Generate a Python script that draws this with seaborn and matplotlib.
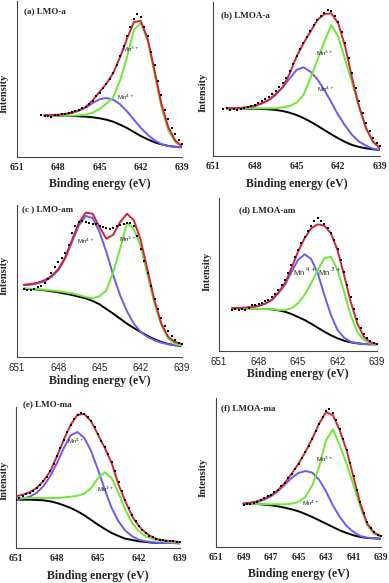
import matplotlib
matplotlib.use("Agg")
import matplotlib.pyplot as plt
import pandas as pd
import seaborn as sns

# Mn 2p3/2 XPS spectra, intensity in arbitrary units
# (a) LMO-a
e_a = [649, 648.5, 648, 647.5, 647, 646.5, 646, 645.5, 645, 644.5, 644,
       643.5, 643, 642.5, 642, 641.5, 641, 640.5, 640, 639.5, 639]
bg_a = [41.7, 41.7, 41.3, 41.3, 41.0, 40.7, 40.3, 39.7, 38.7, 37.3, 35.3,
        32.3, 29.0, 25.0, 21.0, 17.7, 14.7, 12.7, 11.0, 10.3, 9.7]
mn4_a = [41.7, 42.0, 42.3, 43.0, 44.3, 46.3, 49.3, 54.0, 57.7, 59.0, 57.3,
         52.7, 45.7, 37.3, 29.3, 22.3, 16.7, 13.0, 11.0, 10.0, 9.7]
mn3_a = [41.7, 41.7, 41.3, 41.3, 41.3, 41.7, 42.3, 44.3, 48.0, 53.3, 60.0,
         76.7, 100.0, 127.0, 134.0, 116.7, 83.3, 50.0, 26.7, 15.0, 10.7]
fit_a = [41.7, 41.8, 42.0, 43.0, 44.0, 46.7, 50.0, 56.7, 65.0, 73.3, 84.0,
         100.0, 118.3, 135.0, 136.0, 118.3, 86.7, 53.3, 30.0, 16.7, 10.7]
dots_a = [(649.25, 42.5), (649, 41.5), (648.75, 41.0), (648.5, 40.0), (648.25, 42.5),
          (648, 42.0), (647.75, 43.5), (647.5, 43.0), (647.25, 44.5), (647, 45.0),
          (646.75, 46.5), (646.5, 47.5), (646.25, 49.0), (646, 50.5), (645.75, 53.0),
          (645.5, 56.5), (645.25, 61.0), (645, 64.5), (644.75, 69.0), (644.5, 73.0),
          (644.25, 78.5), (644, 84.0), (643.75, 92.0), (643.5, 101.0), (643.25, 111.0),
          (643, 121.0), (642.75, 130.0), (642.5, 138.0), (642.25, 143.0), (642, 140.0),
          (641.75, 130.0), (641.5, 121.0), (641.25, 105.0), (641, 92.0), (640.75, 76.0),
          (640.5, 62.0), (640.25, 47.0), (640, 38.0), (639.75, 29.0), (639.5, 23.0),
          (639.25, 17.0), (639, 13.0)]

# (b) LMOA-a
e_b = [650, 649.5, 649, 648.5, 648, 647.5, 647, 646.5, 646, 645.5, 645, 644.5,
       644, 643.5, 643, 642.5, 642, 641.5, 641, 640.5, 640, 639.5, 639]
bg_b = [47.7, 47.7, 47.7, 47.3, 47.3, 47.0, 46.7, 46.0, 45.0, 43.3, 41.0, 38.0,
        34.3, 30.3, 26.0, 21.7, 17.7, 14.0, 11.0, 9.0, 7.7, 6.7, 6.0]
mn4_b = [47.7, 47.7, 47.7, 48.7, 50.0, 52.3, 56.0, 61.0, 68.7, 77.3, 86.0, 88.7,
         84.3, 76.7, 66.0, 53.7, 41.0, 30.3, 21.0, 14.3, 10.3, 7.3, 6.0]
mn3_b = [47.7, 47.7, 47.7, 47.7, 47.7, 47.7, 47.7, 47.7, 48.7, 50.0, 53.3, 61.0,
         77.7, 96.0, 114.3, 131.0, 119.3, 96.0, 72.7, 49.3, 27.7, 14.3, 7.7]
fit_b = [47.7, 47.7, 48.0, 49.0, 50.0, 53.0, 56.0, 62.0, 68.7, 82.0, 99.3, 112.7,
         124.3, 136.0, 142.0, 142.7, 132.7, 109.3, 77.7, 49.3, 27.7, 14.3, 7.7]
dots_b = [(650.25, 47.0), (650, 48.0), (649.75, 46.5), (649.5, 47.0), (649.25, 46.0),
          (649, 47.5), (648.75, 48.5), (648.5, 49.5), (648.25, 50.5), (648, 51.5),
          (647.75, 53.5), (647.5, 55.0), (647.25, 57.5), (647, 59.5), (646.75, 62.5),
          (646.5, 65.5), (646.25, 69.0), (646, 73.0), (645.75, 78.5), (645.5, 85.0),
          (645.25, 92.0), (645, 100.0), (644.75, 107.0), (644.5, 113.0), (644.25, 119.0),
          (644, 125.0), (643.75, 131.0), (643.5, 136.0), (643.25, 140.0), (643, 143.0),
          (642.75, 146.0), (642.5, 145.0), (642.25, 140.0), (642, 134.0), (641.75, 124.0),
          (641.5, 113.0), (641.25, 98.0), (641, 83.0), (640.75, 68.0), (640.5, 55.0),
          (640.25, 43.0), (640, 33.0), (639.75, 25.0), (639.5, 18.0), (639.25, 13.0),
          (639, 10.0)]

# (c) LMO-am
e_c = [650.5, 650, 649.5, 649, 648.5, 648, 647.5, 647, 646.5, 646, 645.5, 645,
       644.5, 644, 643.5, 643, 642.5, 642, 641.5, 641, 640.5, 640, 639.5, 639]
bg_c = [68.3, 68.0, 67.5, 66.7, 65.7, 64.7, 63.3, 62.0, 60.3, 58.7, 56.0, 52.7,
        48.0, 43.3, 38.3, 33.3, 29.0, 25.0, 21.0, 17.7, 15.0, 13.0, 11.7, 11.0]
mn4_c = [71.7, 72.3, 73.7, 75.7, 80.0, 86.7, 98.3, 115.0, 131.7, 141.0, 139.0, 125.0,
         105.0, 81.7, 61.7, 45.7, 33.3, 25.0, 20.0, 16.7, 14.3, 12.7, 11.7, 11.0]
mn3_c = [68.5, 68.3, 67.8, 67.2, 66.5, 65.7, 64.7, 63.7, 62.0, 60.0, 58.7, 60.7,
         66.7, 85.0, 108.3, 134.3, 128.3, 110.0, 81.7, 53.3, 31.7, 18.3, 13.0, 11.7]
fit_c = [72.3, 73.0, 74.3, 76.7, 81.0, 87.7, 99.7, 117.0, 134.3, 144.3, 143.3, 130.0,
         118.3, 122.3, 135.0, 143.3, 136.7, 116.7, 86.7, 56.7, 33.3, 20.0, 15.0, 13.0]
dots_c = [(650.5, 68.5), (650.25, 67.0), (650, 67.5), (649.75, 68.0), (649.5, 70.0),
          (649.25, 71.0), (649, 74.0), (648.75, 78.0), (648.5, 84.0), (648.25, 90.0),
          (648, 95.0), (647.75, 99.0), (647.5, 104.0), (647.25, 112.0), (647, 124.0),
          (646.75, 131.0), (646.5, 135.0), (646.25, 136.0), (646, 135.0), (645.75, 134.0),
          (645.5, 133.5), (645.25, 133.0), (645, 131.5), (644.75, 130.0), (644.5, 129.0),
          (644.25, 128.0), (644, 129.0), (643.75, 131.0), (643.5, 132.0), (643.25, 133.0),
          (643, 134.0), (642.75, 134.0), (642.5, 131.0), (642.25, 121.0), (642, 108.0),
          (641.75, 96.0), (641.5, 84.0), (641.25, 71.0), (641, 58.0), (640.75, 48.0),
          (640.5, 39.0), (640.25, 31.0), (640, 26.0), (639.75, 21.0), (639.5, 17.0),
          (639.25, 14.5), (639, 13.0)]

# (d) LMOA-am
e_d = [650, 649.5, 649, 648.5, 648, 647.5, 647, 646.5, 646, 645.5, 645, 644.5,
       644, 643.5, 643, 642.5, 642, 641.5, 641, 640.5, 640, 639.5, 639]
bg_d = [42.7, 42.7, 42.3, 42.3, 42.0, 42.0, 41.7, 40.7, 39.3, 37.0, 34.0, 31.0,
        27.3, 23.3, 19.3, 15.7, 12.7, 10.3, 8.7, 7.7, 7.0, 6.7, 6.7]
mn4_d = [42.7, 43.0, 43.3, 44.0, 45.0, 47.3, 51.0, 57.7, 66.0, 78.7, 91.0, 96.7,
         92.0, 77.7, 56.0, 36.0, 21.0, 13.3, 9.3, 7.7, 7.0, 6.7, 6.7]
mn3_d = [42.0, 42.0, 42.0, 42.0, 42.0, 42.0, 42.0, 41.0, 41.0, 42.7, 47.7, 56.0,
         67.7, 81.0, 92.7, 94.3, 81.0, 59.3, 36.0, 19.3, 11.0, 7.7, 6.7]
fit_d = [42.7, 43.0, 43.3, 44.0, 45.0, 47.3, 51.0, 58.3, 67.7, 82.7, 99.3, 112.7,
         122.7, 126.7, 125.3, 117.7, 101.0, 76.0, 49.3, 27.7, 14.3, 8.7, 7.0]
dots_d = [(650, 41.5), (649.75, 42.5), (649.5, 41.0), (649.25, 42.0), (649, 41.5),
          (648.75, 43.0), (648.5, 46.0), (648.25, 46.5), (648, 47.0), (647.75, 48.0),
          (647.5, 50.0), (647.25, 51.5), (647, 54.0), (646.75, 57.0), (646.5, 61.0),
          (646.25, 66.0), (646, 71.0), (645.75, 78.0), (645.5, 86.0), (645.25, 94.0),
          (645, 101.0), (644.75, 108.0), (644.5, 114.0), (644.25, 120.0), (644, 125.0),
          (643.75, 130.0), (643.5, 133.0), (643.25, 130.0), (643, 127.0), (642.75, 123.0),
          (642.5, 118.0), (642.25, 111.0), (642, 102.0), (641.75, 91.0), (641.5, 79.0),
          (641.25, 66.0), (641, 54.0), (640.75, 42.0), (640.5, 32.0), (640.25, 23.0),
          (640, 17.0), (639.75, 13.0), (639.5, 10.0), (639.25, 8.0), (639, 7.0)]

# (e) LMO-ma
e_e = [651, 650.5, 650, 649.5, 649, 648.5, 648, 647.5, 647, 646.5, 646, 645.5, 645,
       644.5, 644, 643.5, 643, 642.5, 642, 641.5, 641, 640.5, 640, 639.5, 639]
bg_e = [48.3, 48.3, 48.3, 48.0, 47.7, 46.7, 45.0, 42.7, 40.0, 36.7, 32.7, 28.0, 23.3,
        19.0, 15.0, 12.0, 9.3, 8.0, 6.7, 6.0, 5.3, 5.0, 5.0, 5.0, 4.7]
mn4_e = [48.3, 49.3, 51.3, 55.0, 61.7, 71.7, 85.0, 100.0, 112.7, 116.0, 110.0, 96.7, 78.3,
         58.3, 40.0, 26.7, 17.3, 11.7, 8.3, 6.7, 5.7, 5.0, 5.0, 5.0, 4.7]
mn3_e = [50.0, 50.0, 50.0, 50.0, 50.0, 50.0, 50.0, 50.7, 51.3, 52.3, 54.3, 60.0, 70.0,
         75.7, 70.0, 55.0, 38.3, 25.0, 16.7, 11.7, 9.0, 7.3, 6.3, 5.7, 5.3]
fit_e = [51.7, 53.3, 55.7, 60.0, 66.7, 76.7, 91.7, 108.3, 123.3, 133.3, 134.0, 126.7, 113.3,
         100.0, 85.0, 63.3, 46.7, 31.7, 21.7, 15.0, 10.7, 8.3, 7.3, 6.7, 6.0]
dots_e = [(651, 48.0), (650.75, 50.5), (650.5, 52.5), (650.25, 54.0), (650, 55.5),
          (649.75, 57.5), (649.5, 60.0), (649.25, 63.5), (649, 67.0), (648.75, 71.0),
          (648.5, 77.0), (648.25, 84.0), (648, 92.0), (647.75, 100.0), (647.5, 108.0),
          (647.25, 116.0), (647, 123.0), (646.75, 129.0), (646.5, 133.0), (646.25, 135.0),
          (646, 134.0), (645.75, 131.0), (645.5, 127.0), (645.25, 121.0), (645, 114.0),
          (644.75, 107.0), (644.5, 101.0), (644.25, 94.0), (644, 86.0), (643.75, 77.0),
          (643.5, 66.0), (643.25, 57.0), (643, 48.0), (642.75, 40.0), (642.5, 33.0),
          (642.25, 27.0), (642, 22.0), (641.75, 18.0), (641.5, 15.0), (641.25, 12.5),
          (641, 11.0), (640.75, 9.5), (640.5, 8.5), (640.25, 8.0), (640, 7.5),
          (639.75, 7.0), (639.5, 7.0), (639.25, 6.5), (639, 6.0)]

# (f) LMOA-ma
e_f = [649, 648.5, 648, 647.5, 647, 646.5, 646, 645.5, 645, 644.5, 644,
       643.5, 643, 642.5, 642, 641.5, 641, 640.5, 640, 639.5, 639]
bg_f = [43.3, 43.3, 43.0, 42.3, 41.7, 40.7, 39.3, 37.7, 35.7, 33.0, 30.0,
        26.7, 23.3, 20.0, 16.7, 14.0, 11.7, 10.0, 9.0, 8.7, 8.3]
mn4_f = [43.3, 44.0, 45.0, 47.3, 50.7, 55.7, 62.3, 69.0, 74.0, 76.0, 74.3,
         67.3, 55.7, 41.7, 30.0, 21.0, 15.0, 11.0, 9.3, 8.7, 8.3]
mn3_f = [43.3, 43.3, 43.0, 42.7, 42.7, 42.7, 42.7, 43.3, 45.0, 50.0, 61.7,
         80.0, 106.7, 117.7, 101.7, 83.3, 61.7, 40.0, 21.7, 13.3, 10.0]
fit_f = [43.3, 44.3, 45.7, 48.3, 51.7, 56.7, 64.0, 73.3, 83.3, 95.0, 108.3,
         123.3, 135.0, 131.7, 116.7, 96.7, 70.0, 43.3, 23.3, 14.3, 11.0]
dots_f = [(649, 42.0), (648.75, 43.5), (648.5, 43.0), (648.25, 44.5), (648, 45.5),
          (647.75, 47.5), (647.5, 49.0), (647.25, 51.0), (647, 52.5), (646.75, 55.0),
          (646.5, 57.5), (646.25, 61.0), (646, 64.5), (645.75, 69.0), (645.5, 73.5),
          (645.25, 78.0), (645, 83.0), (644.75, 89.0), (644.5, 95.0), (644.25, 101.5),
          (644, 108.0), (643.75, 116.0), (643.5, 123.0), (643.25, 130.0), (643, 136.0),
          (642.75, 138.0), (642.5, 134.0), (642.25, 127.0), (642, 118.0), (641.75, 108.0),
          (641.5, 97.0), (641.25, 84.0), (641, 71.0), (640.75, 57.0), (640.5, 45.0),
          (640.25, 34.0), (640, 25.0), (639.75, 19.0), (639.5, 15.0), (639.25, 12.5),
          (639, 11.0)]

titles = ['(a) LMO-a', '(b) LMOA-a', '(c ) LMO-am', '(d) LMOA-am', '(e) LMO-ma', '(f) LMOA-ma']
ticks_main = [651, 648, 645, 642, 639]
ticks_f = [651, 649, 647, 645, 643, 641, 639]

RED = '#d0243a'
BLUE = '#6b5cf2'
GREEN = '#6ee835'

sns.set_style('white')
plt.rcParams['font.family'] = ['Liberation Serif', 'DejaVu Sans']

W, H = 389, 583
fig = plt.figure(figsize=(W / 100, H / 100), dpi=100)

# box in pixels (left, top, right, bottom), then title / ylabel spots and peak labels
panels = [
    dict(box=(17, 1, 182, 157), e=e_a, bg=bg_a, mn4=mn4_a, mn3=mn3_a, fit=fit_a, dots=dots_a,
         ticks=ticks_main, serif_ticks=True, title_xy=(0.042, 0.935), ylab_xy=(-0.05, 0.41),
         xpad=5, lab4=(643.75, 60, 4.5, 'Mn$^{4+}$'), lab3=(643.4, 108, 4.5, 'Mn$^{3+}$')),
    dict(box=(213, 2, 380, 156), e=e_b, bg=bg_b, mn4=mn4_b, mn3=mn3_b, fit=fit_b, dots=dots_b,
         ticks=ticks_main, serif_ticks=True, title_xy=(0.048, 0.915), ylab_xy=(-0.033, 0.41),
         xpad=5, lab4=(643.5, 67, 4.5, 'Mn$^{4+}$'), lab3=(643.6, 103, 4.5, 'Mn$^{3+}$')),
    dict(box=(17, 205, 182, 357), e=e_c, bg=bg_c, mn4=mn4_c, mn3=mn3_c, fit=fit_c, dots=dots_c,
         ticks=ticks_main, serif_ticks=False, title_xy=(0.03, 0.975), ylab_xy=(-0.052, 0.54),
         xpad=2, lab4=(646.65, 116, 4.5, 'Mn$^{4+}$'), lab3=(643.6, 118, 4.5, 'Mn$^{3+}$')),
    dict(box=(219, 198, 377, 351), e=e_d, bg=bg_d, mn4=mn4_d, mn3=mn3_d, fit=fit_d, dots=dots_d,
         ticks=ticks_main, serif_ticks=False, title_xy=(0.127, 0.92), ylab_xy=(-0.044, 0.52),
         xpad=1, lab4=(645.35, 79, 5.5, 'Mn $^{4+}$'), lab3=(643.5, 79, 5.5, 'Mn $^{3+}$')),
    dict(box=(16, 407, 180, 548), e=e_e, bg=bg_e, mn4=mn4_e, mn3=mn3_e, fit=fit_e, dots=dots_e,
         ticks=ticks_main, serif_ticks=True, title_xy=(0.043, 1.02), ylab_xy=(-0.046, 0.48),
         xpad=5.5, lab4=(647.3, 107, 4.5, 'Mn$^{4+}$'), lab3=(645.05, 59, 4.5, 'Mn$^{3+}$')),
    dict(box=(216, 398, 381, 547), e=e_f, bg=bg_f, mn4=mn4_f, mn3=mn3_f, fit=fit_f, dots=dots_f,
         ticks=ticks_f, serif_ticks=True, title_xy=(0.03, 0.933), ylab_xy=(-0.05, 0.47),
         xpad=5, lab4=(644.77, 44, 4.5, 'Mn$^{4+}$'), lab3=(643.73, 88, 4.5, 'Mn$^{3+}$')),
]

for p, title in zip(panels, titles):
    l, t, r, b = p['box']
    ax = fig.add_axes([l / W, (H - b) / H, (r - l) / W, (b - t) / H])

    curves = pd.DataFrame({'E': p['e'], 'bg': p['bg'], 'mn4': p['mn4'],
                           'mn3': p['mn3'], 'fit': p['fit']})
    dots = pd.DataFrame(p['dots'], columns=['E', 'I'])

    sns.lineplot(data=curves, x='E', y='bg', color='black', lw=1.4, ax=ax, sort=False)
    sns.lineplot(data=curves, x='E', y='mn4', color=BLUE, lw=1.4, ax=ax, sort=False)
    sns.lineplot(data=curves, x='E', y='mn3', color=GREEN, lw=1.4, ax=ax, sort=False)
    sns.lineplot(data=curves, x='E', y='fit', color=RED, lw=1.4, ax=ax, sort=False)
    sns.scatterplot(data=dots, x='E', y='I', color='black', marker='s', s=4.5,
                    linewidth=0, ax=ax, zorder=5)

    ax.set_xlim(651, 639)
    ax.set_ylim(0, b - t)
    ax.set_xticks(p['ticks'])
    ax.set_yticks([])
    sns.despine(ax=ax)
    for s in ['left', 'bottom']:
        ax.spines[s].set_color('#444444')
        ax.spines[s].set_linewidth(0.8)
    ax.tick_params(axis='x', direction='out', length=2, width=0.7, pad=2, color='#444444')
    for lab in ax.get_xticklabels():
        if p['serif_ticks']:
            lab.set_fontfamily('Liberation Serif')
            lab.set_fontweight('bold')
        else:
            lab.set_fontfamily('Liberation Sans')
        lab.set_fontsize(7)

    ax.set_xlabel('Binding energy (eV)', fontsize=8.5, fontweight='bold', labelpad=p['xpad'])
    ax.set_ylabel('Intensity', fontsize=7.5, fontweight='bold')
    ax.yaxis.set_label_coords(*p['ylab_xy'])

    ax.text(p['title_xy'][0], p['title_xy'][1], title, transform=ax.transAxes,
            fontsize=6.5, fontweight='bold', ha='left', va='center')
    for x, y, fs, txt in (p['lab4'], p['lab3']):
        ax.text(x, y, txt, fontsize=fs, family='Liberation Sans', ha='left', va='center')

fig.savefig('out.png', dpi=100)
